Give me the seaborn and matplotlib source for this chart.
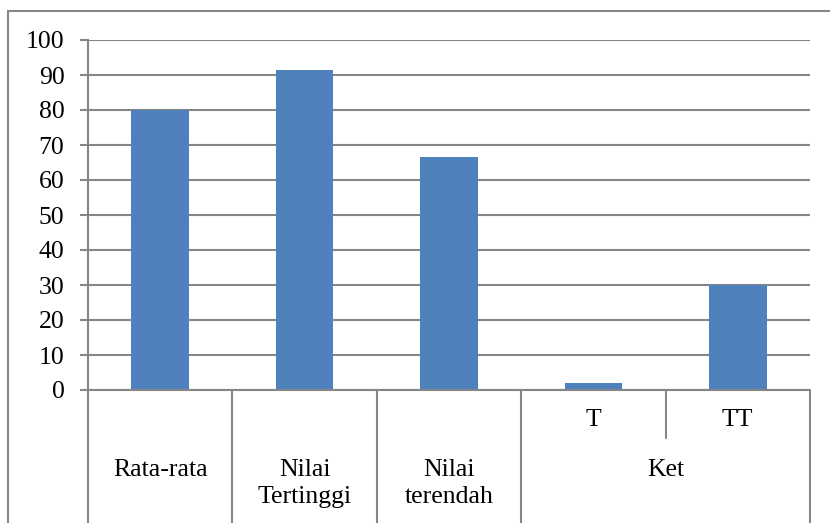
import matplotlib
matplotlib.use("Agg")
import matplotlib.pyplot as plt
import matplotlib.transforms as mtransforms
from matplotlib.lines import Line2D
import pandas as pd
import seaborn as sns

# Bar data: one bar per leaf category
bar_keys = ["Rata-rata", "Nilai Tertinggi", "Nilai terendah", "T", "TT"]
values = [80, 91.5, 66.5, 2, 30]

# Two-level category axis
inner_labels = ["", "", "", "T", "TT"]
group_labels = ["Rata-rata", "Nilai\nTertinggi", "Nilai\nterendah", "Ket"]
group_spans = [1, 1, 1, 2]

y_ticks = list(range(0, 101, 10))

sns.set_theme(style="white")
plt.rcParams["font.family"] = ["Liberation Serif", "DejaVu Serif"]

FS = 18.5
W, H = 830, 523
fig = plt.figure(figsize=(W / 100, H / 100), dpi=100)
ax = fig.add_axes([88 / W, 1 - 390 / H, (810 - 88) / W, (390 - 40) / H])

df = pd.DataFrame({"cat": bar_keys, "val": values})
sns.barplot(data=df, x="cat", y="val", color="#4F81BD", saturation=1,
            width=0.4, linewidth=0, ax=ax, zorder=3)

grid_c = "#868686"
ax.set_ylim(0, 100)
ax.set_xlim(-0.5, len(bar_keys) - 0.5)
ax.set_yticks(y_ticks)
ax.set_yticklabels([str(t) for t in y_ticks], fontsize=FS, color="black")
ax.yaxis.grid(True, color=grid_c, linewidth=1.5, zorder=0)
ax.xaxis.grid(False)
ax.set_axisbelow(True)
ax.tick_params(axis="y", length=6, width=1.5, color=grid_c, pad=11, left=True)
ax.tick_params(axis="x", length=0, labelbottom=False)
ax.set_xlabel("")
ax.set_ylabel("")
for side in ["top", "right", "bottom"]:
    ax.spines[side].set_visible(False)
ax.spines["left"].set_color(grid_c)
ax.spines["left"].set_linewidth(1.5)
ax.spines["left"].set_zorder(1)

trans = mtransforms.blended_transform_factory(ax.transData, ax.transAxes)
px = 1 / (390 - 40)  # one pixel in axes-y units

# Baseline under the bars
ax.add_line(Line2D([-0.5, len(bar_keys) - 0.5], [0, 0], transform=trans,
                   color=grid_c, linewidth=1.5, clip_on=False, zorder=4))

# Inner labels and their short dividers
for i, lab in enumerate(inner_labels):
    if lab:
        ax.text(i, -30 * px, lab, transform=trans, ha="center", va="center",
                fontsize=FS, color="black")
ax.add_line(Line2D([3.5, 3.5], [0, -48 * px], transform=trans,
                   color=grid_c, linewidth=1.5, clip_on=False))

# Outer group labels and full-height dividers
start = 0
edges = [-0.5]
for lab, span in zip(group_labels, group_spans):
    centre = start + (span - 1) / 2
    n_lines = lab.count("\n")
    ax.text(centre, -(80 + 13.5 * n_lines) * px, lab, transform=trans,
            ha="center", va="center", fontsize=FS, color="black",
            linespacing=1.25)
    start += span
    edges.append(start - 0.5)
for e in edges:
    ax.add_line(Line2D([e, e], [0, -140 * px], transform=trans,
                       color=grid_c, linewidth=1.5, clip_on=False))

# Chart frame (left and top edges)
fig.add_artist(Line2D([8 / W, 8 / W], [0, 1 - 11 / H], transform=fig.transFigure,
                      color=grid_c, linewidth=1.5))
fig.add_artist(Line2D([8 / W, 1], [1 - 11 / H, 1 - 11 / H], transform=fig.transFigure,
                      color=grid_c, linewidth=1.5))

fig.savefig("out.png", dpi=100)
